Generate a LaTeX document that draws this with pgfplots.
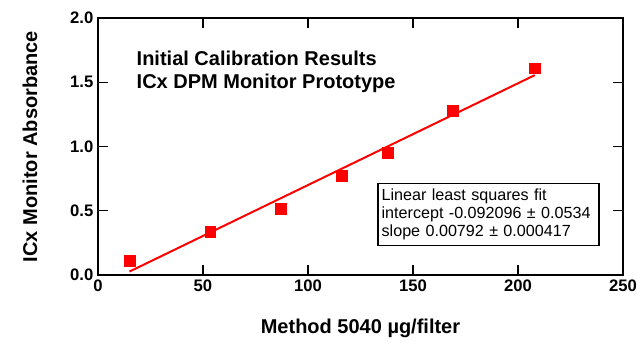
\documentclass[border=0pt]{standalone}
\usepackage{pgfplots}
\pgfplotsset{compat=1.18}
\usepackage{fontspec}
\setmainfont{Liberation Sans}
\begin{document}
\begin{tikzpicture}
\useasboundingbox (-73.5pt,-53.25pt) rectangle (404.25pt,206.25pt);
\begin{axis}[
  at={(0,0)}, anchor=south west,
  scale only axis,
  width=393.75pt, height=192.75pt,
  xmin=0, xmax=250, ymin=0, ymax=2.0,
  xtick={0,50,...,250}, ytick={0,0.5,...,2.0},
  tick align=inside, major tick length=7.5pt,
  tick style={line width=1.1pt, black},
  axis line style={line width=1.1pt},
  /pgf/number format/assume math mode=true,
  yticklabel style={/pgf/number format/fixed, /pgf/number format/fixed zerofill, /pgf/number format/precision=1, font=\fontsize{12.5}{14}\selectfont\bfseries},
  xticklabel style={font=\fontsize{12.5}{14}\selectfont\bfseries},
  clip=false,
]
\addplot[red, line width=1.5pt] coordinates {(15,0.0267) (208,1.5553)};
\addplot[only marks, mark=square*, mark size=4pt, red] coordinates {
(15,0.11) (53.5,0.335) (87,0.515) (116,0.77) (138,0.95) (169,1.28) (208,1.61)};
\node[anchor=west, align=left, font=\fontsize{15}{17.5}\selectfont\bfseries, inner sep=0pt] at (axis cs:18.3,1.58) {Initial Calibration Results\\ICx DPM Monitor Prototype};
\node[anchor=north west, draw=black, line width=1.1pt, fill=white, align=left, font=\fontsize{12.1}{13.5}\selectfont, inner sep=2.5pt, minimum width=165.75pt, minimum height=46.5pt, text width=160pt] at (axis cs:132.9,0.716) {Linear least squares fit\\intercept -0.092096 ± 0.0534\\slope 0.00792 ± 0.000417};
\node[font=\fontsize{15}{17}\selectfont\bfseries, anchor=center] at ([yshift=-39.75pt]rel axis cs:0.5,0) {Method 5040 µg/filter};
\node[font=\fontsize{15}{17}\selectfont\bfseries, anchor=center, rotate=90] at ([xshift=-51pt]rel axis cs:0,0.5) {ICx Monitor Absorbance};
\end{axis}
\end{tikzpicture}
\end{document}
